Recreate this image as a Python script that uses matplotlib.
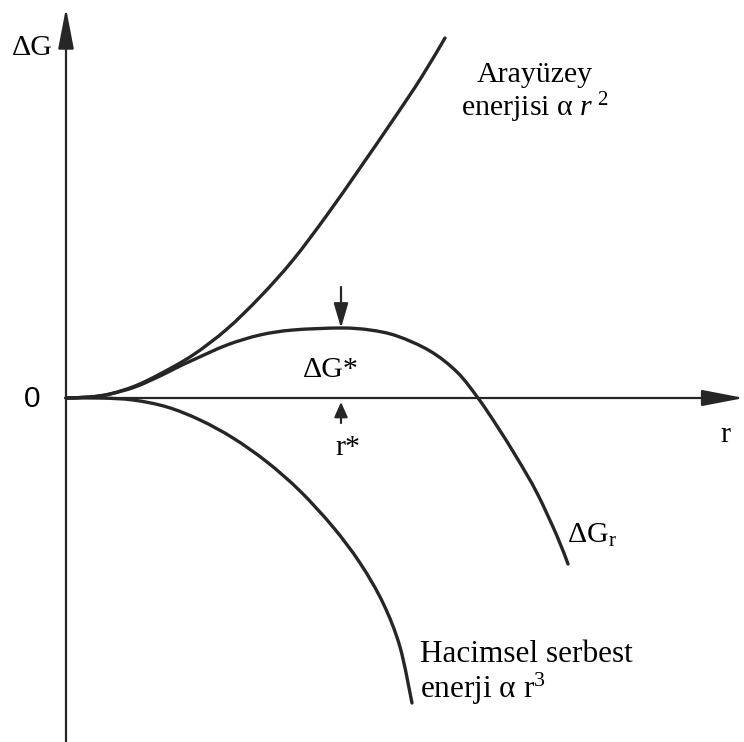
import matplotlib
matplotlib.use("Agg")
import matplotlib.pyplot as plt
from matplotlib.path import Path
from matplotlib.patches import PathPatch

plt.rcParams["font.family"] = ["Liberation Serif", "DejaVu Serif"]
plt.rcParams["mathtext.fontset"] = "custom"
plt.rcParams["mathtext.rm"] = "Liberation Serif"
plt.rcParams["mathtext.it"] = "Liberation Serif:italic"

# --- curves (r, dG), origin at the axis crossing ---
surf_r = [0.0, 0.24, 0.44, 0.69, 0.94, 1.27, 1.61, 1.94, 2.27, 2.61, 2.94, 3.27, 3.55, 3.79]
surf_g = [0.0, 0.01, 0.04, 0.12, 0.24, 0.43, 0.69, 1.01, 1.38, 1.83, 2.30, 2.78, 3.20, 3.60]

tot_r = [0.0, 0.24, 0.44, 0.69, 0.94, 1.10, 1.27, 1.61, 1.94, 2.27, 2.75, 3.04, 3.31,
         3.64, 3.91, 4.12, 4.31, 4.51, 4.71, 4.91, 5.02]
tot_g = [0.0, 0.01, 0.04, 0.11, 0.22, 0.30, 0.38, 0.53, 0.63, 0.68, 0.70, 0.68, 0.62,
         0.47, 0.26, 0.0, -0.28, -0.60, -0.95, -1.38, -1.66]

vol_r = [0.0, 0.34, 0.67, 1.01, 1.34, 1.67, 2.01, 2.34, 2.67, 2.94, 3.17, 3.34, 3.46]
vol_g = [0.0, 0.0, -0.02, -0.09, -0.22, -0.40, -0.64, -0.93, -1.29, -1.65, -2.05, -2.49, -3.05]

r_star = 2.75
g_star = 0.70

INK = "#262626"


def smooth_curve(ax, xs, ys, **kw):
    # pass a Catmull-Rom style cubic Bezier through the read points
    pts = list(zip(xs, ys))
    verts = [pts[0]]
    codes = [Path.MOVETO]
    for i in range(len(pts) - 1):
        p0 = pts[i - 1] if i > 0 else pts[i]
        p1 = pts[i]
        p2 = pts[i + 1]
        p3 = pts[i + 2] if i + 2 < len(pts) else pts[i + 1]
        c1 = (p1[0] + (p2[0] - p0[0]) / 6, p1[1] + (p2[1] - p0[1]) / 6)
        c2 = (p2[0] - (p3[0] - p1[0]) / 6, p2[1] - (p3[1] - p1[1]) / 6)
        verts += [c1, c2, p2]
        codes += [Path.CURVE4] * 3
    ax.add_patch(PathPatch(Path(verts, codes), fill=False, **kw))


fig = plt.figure(figsize=(7.44, 7.42), dpi=100)
ax = fig.add_axes([0, 0, 1, 1])
ax.set_xlim(-0.66, 6.78)
ax.set_ylim(-3.44, 3.98)
ax.axis("off")

# axes with arrow heads
ax.annotate("", xy=(0, 3.90), xytext=(0, -3.44), annotation_clip=False,
            arrowprops=dict(arrowstyle="-|>,head_length=1.25,head_width=0.24",
                            mutation_scale=20, lw=1.6, color=INK,
                            shrinkA=0, shrinkB=0))
ax.annotate("", xy=(6.78, 0), xytext=(0, 0), annotation_clip=False,
            arrowprops=dict(arrowstyle="-|>,head_length=1.3,head_width=0.25",
                            mutation_scale=20, lw=1.6, color=INK,
                            shrinkA=0, shrinkB=0))

kw = dict(edgecolor=INK, lw=2.4, capstyle="round", joinstyle="round")
smooth_curve(ax, surf_r, surf_g, **kw)
smooth_curve(ax, tot_r, tot_g, **kw)
smooth_curve(ax, vol_r, vol_g, **kw)

# dG* and r* markers
ax.annotate("", xy=(r_star, g_star), xytext=(r_star, g_star + 0.41),
            arrowprops=dict(arrowstyle="-|>,head_length=0.75,head_width=0.22",
                            mutation_scale=20, lw=1.6, color=INK,
                            shrinkA=0, shrinkB=0))
ax.annotate("", xy=(r_star, -0.04), xytext=(r_star, -0.25),
            arrowprops=dict(arrowstyle="-|>,head_length=0.45,head_width=0.2",
                            mutation_scale=20, lw=1.6, color=INK,
                            shrinkA=0, shrinkB=0))

fs = 21.5
ax.text(-0.54, 3.50, "ΔG", fontsize=fs, ha="left", va="center", color="black")
ax.text(-0.34, -0.09, "0", fontsize=fs, ha="center", va="baseline",
        family=["Liberation Sans", "DejaVu Sans"], color="black")
ax.text(6.54, -0.44, "r", fontsize=fs, ha="left", va="baseline", color="black")
ax.text(2.37, 0.21, "ΔG*", fontsize=fs, ha="left", va="baseline", color="black")
ax.text(2.69, -0.57, "r*", fontsize=fs, ha="left", va="baseline", color="black")
ax.text(5.01, -1.45, r"ΔG$_\mathrm{r}$", fontsize=fs, ha="left", va="baseline",
        color="black")
ax.text(4.69, 3.16, "Arayüzey", fontsize=fs, ha="center", va="baseline",
        color="black")
ax.text(4.69, 2.82, r"enerjisi α $r^{\ 2}$", fontsize=fs, ha="center",
        va="baseline", color="black")
ax.text(3.54, -2.64, "Hacimsel serbest", fontsize=22.5, ha="left", va="baseline",
        color="black")
ax.text(3.54, -3.00, r"enerji α $\mathrm{r}^3$", fontsize=22.5, ha="left",
        va="baseline", color="black")

fig.savefig("out.png", dpi=100, facecolor="white")
